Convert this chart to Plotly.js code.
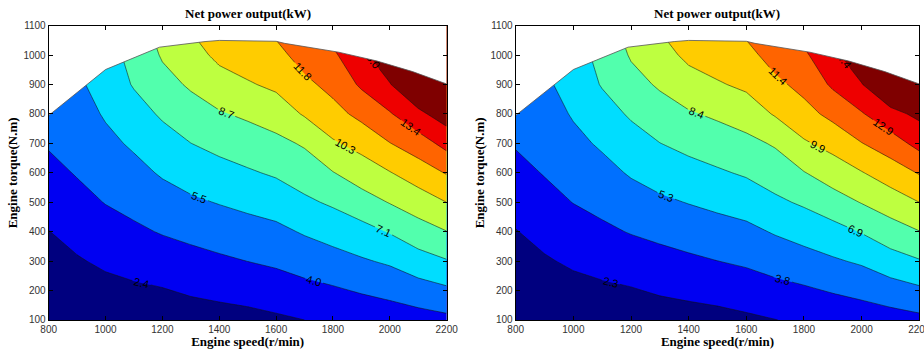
<!DOCTYPE html>
<html><head><meta charset="utf-8">
<script src="https://cdn.plot.ly/plotly-3.0.1.min.js"></script>
<style>html,body{margin:0;padding:0;background:#fff;}#chart{width:924px;height:349px;}</style>
</head><body><div id="chart"></div>
<script>
// Engine speed grid (r/min) and torque grid (N.m)
const speed = [800, 900, 1000, 1100, 1200, 1300, 1400, 1500, 1600, 1700, 1800, 1900, 2000, 2100, 2200];
const torque = [100, 200, 300, 400, 500, 600, 700, 800, 900, 1000, 1100];

// Net power output (kW), left chart, rows = torque, columns = speed
const powerLeft = [
  [0.60, 1.02, 1.25, 1.35, 1.41, 1.67, 1.80, 1.92, 2.14, 2.38, 2.66, 2.88, 3.09, 3.33, 3.58],
  [1.20, 1.63, 1.94, 2.13, 2.29, 2.56, 2.75, 2.94, 3.18, 3.50, 3.76, 4.09, 4.40, 4.83, 5.25],
  [1.80, 2.25, 2.63, 2.91, 3.18, 3.45, 3.71, 3.97, 4.21, 4.59, 4.95, 5.37, 5.75, 6.48, 7.01],
  [2.35, 2.86, 3.32, 3.69, 4.06, 4.36, 4.66, 4.93, 5.17, 5.68, 6.14, 6.57, 7.21, 8.01, 8.65],
  [2.94, 3.48, 4.01, 4.40, 4.88, 5.29, 5.61, 5.91, 6.22, 6.84, 7.33, 8.03, 8.76, 9.47, 10.27],
  [3.52, 4.06, 4.58, 5.07, 5.70, 6.20, 6.57, 6.94, 7.30, 7.84, 8.63, 9.45, 10.19, 11.05, 11.94],
  [4.10, 4.46, 5.15, 5.76, 6.50, 7.10, 7.55, 7.92, 8.29, 8.86, 10.08, 10.77, 11.80, 12.65, 13.93],
  [4.70, 4.86, 5.69, 6.50, 7.31, 8.01, 8.55, 8.94, 9.44, 10.41, 11.32, 12.26, 13.28, 14.64, 15.77],
  [5.30, 5.26, 6.17, 7.23, 8.15, 8.89, 9.61, 10.12, 10.56, 11.48, 12.31, 13.65, 14.92, 16.53, 17.57],
  [5.90, 5.66, 6.66, 7.45, 8.85, 9.65, 10.62, 11.03, 11.36, 12.47, 13.15, 14.65, 16.00, 18.30, 19.40],
  [6.50, 6.06, 7.15, 8.00, 9.30, 10.41, 11.53, 11.89, 12.30, 13.50, 14.20, 15.60, 17.20, 20.10, 21.20]
];

// Net power output (kW), right chart
const powerRight = [
  [0.58, 0.98, 1.20, 1.30, 1.36, 1.61, 1.73, 1.85, 2.06, 2.29, 2.56, 2.77, 2.98, 3.21, 3.45],
  [1.16, 1.57, 1.87, 2.05, 2.21, 2.47, 2.65, 2.83, 3.06, 3.37, 3.62, 3.94, 4.24, 4.65, 5.06],
  [1.73, 2.17, 2.53, 2.80, 3.06, 3.32, 3.57, 3.82, 4.05, 4.42, 4.77, 5.17, 5.54, 6.24, 6.75],
  [2.26, 2.75, 3.20, 3.55, 3.91, 4.20, 4.49, 4.75, 4.98, 5.47, 5.91, 6.33, 6.94, 7.71, 8.33],
  [2.83, 3.35, 3.86, 4.24, 4.70, 5.09, 5.40, 5.69, 5.99, 6.59, 7.06, 7.73, 8.44, 9.12, 9.89],
  [3.39, 3.91, 4.41, 4.88, 5.49, 5.97, 6.33, 6.68, 7.03, 7.55, 8.31, 9.10, 9.81, 10.64, 11.50],
  [3.95, 4.29, 4.96, 5.55, 6.26, 6.84, 7.27, 7.63, 7.98, 8.53, 9.71, 10.37, 11.36, 12.18, 13.41],
  [4.53, 4.68, 5.48, 6.26, 7.04, 7.71, 8.23, 8.61, 9.09, 10.02, 10.90, 11.81, 12.79, 14.00, 14.75],
  [5.10, 5.07, 5.94, 6.96, 7.85, 8.56, 9.25, 9.75, 10.17, 11.06, 11.85, 13.15, 14.37, 15.92, 16.92],
  [5.68, 5.45, 6.41, 7.17, 8.52, 9.29, 10.23, 10.62, 10.94, 12.01, 12.66, 14.11, 15.41, 17.62, 18.68],
  [6.26, 5.84, 6.89, 7.70, 8.96, 10.03, 11.10, 11.45, 11.85, 13.00, 13.67, 15.02, 16.56, 19.36, 20.42]
];

// Contour levels (first, last, step)
const levelsLeft = [2.38, 14.996, 1.577];
const levelsRight = [2.315, 14.435, 1.515];

// Maximum torque curve (upper edge of the operating region)
const curveSpeed = [800, 940, 1000, 1080, 1190, 1350, 1400, 1600, 1630, 1820, 1955, 2080, 2200];
const curveTorque = [795, 902, 951, 983, 1027, 1046, 1050, 1047, 1040, 1010, 980, 944, 902];

const speedTicks = [800, 1000, 1200, 1400, 1600, 1800, 2000, 2200];
const torqueTicks = [100, 200, 300, 400, 500, 600, 700, 800, 900, 1000, 1100];

const bandColors = ['#00007F', '#0000F2', '#0070FF', '#00DDFF', '#52FFAD', '#BEFF40', '#FFCC00', '#FF6400', '#EE0000', '#7F0000'];
const colorscale = bandColors.map((c, i) => [i / (bandColors.length - 1), c]);

function contourTrace(z, lv, xa, ya) {
  return {
    type: 'contour', x: speed, y: torque, z: z, xaxis: xa, yaxis: ya,
    autocontour: false,
    contours: {start: lv[0], end: lv[1], size: lv[2], coloring: 'fill', showlabels: true,
      labelformat: '.1f', labelfont: {family: 'Liberation Sans, Arial, sans-serif', size: 11, color: '#000'}},
    colorscale: colorscale, showscale: false,
    line: {color: '#111', width: 0.55, smoothing: 0},
    hoverinfo: 'skip'
  };
}
function maskTrace(xa, ya) {
  return {type: 'scatter', mode: 'lines', xaxis: xa, yaxis: ya,
    x: curveSpeed.concat([2200, 800]), y: curveTorque.concat([1100, 1100]),
    fill: 'toself', fillcolor: '#ffffff', line: {width: 0}, hoverinfo: 'skip', showlegend: false};
}
function edgeTrace(xa, ya) {
  return {type: 'scatter', mode: 'lines', xaxis: xa, yaxis: ya, x: curveSpeed, y: curveTorque,
    line: {color: '#555', width: 0.8}, hoverinfo: 'skip', showlegend: false};
}

const tickFont = {family: 'Liberation Sans, Arial, sans-serif', size: 10, color: '#333'};
const titleFont = {family: 'Liberation Serif, Times New Roman, serif', size: 13, color: '#000'};

function xAxis(dom, anchor) {
  return {domain: dom, anchor: anchor, range: [800, 2200], tickvals: speedTicks,
    ticks: 'inside', ticklen: 4, tickcolor: '#000', showline: true, linecolor: '#000', linewidth: 1,
    mirror: 'ticks', showgrid: false, zeroline: false, tickfont: tickFont, ticklabeloverflow: 'allow',
    title: {text: '<b>Engine speed(r/min)</b>', font: titleFont, standoff: 2}};
}
function yAxis(anchor) {
  return {domain: [0.0831, 0.9264], anchor: anchor, range: [100, 1100], tickvals: torqueTicks,
    ticks: 'inside', ticklen: 4, tickcolor: '#000', showline: true, linecolor: '#000', linewidth: 1,
    mirror: 'ticks', showgrid: false, zeroline: false, tickfont: tickFont,
    title: {text: '<b>Engine torque(N.m)</b>', font: titleFont, standoff: 2}};
}

const data = [
  contourTrace(powerLeft, levelsLeft, 'x', 'y'), maskTrace('x', 'y'), edgeTrace('x', 'y'),
  contourTrace(powerRight, levelsRight, 'x2', 'y2'), maskTrace('x2', 'y2'), edgeTrace('x2', 'y2')
];

const layout = {
  width: 924, height: 349, margin: {l: 0, r: 0, t: 0, b: 0},
  paper_bgcolor: '#fff', plot_bgcolor: '#fff', showlegend: false,
  xaxis: xAxis([0.0527, 0.4834], 'y'), yaxis: yAxis('x'),
  xaxis2: xAxis([0.5581, 0.9949], 'y2'), yaxis2: yAxis('x2'),
  annotations: [
    {text: '<b>Net power output(kW)</b>', xref: 'x domain', yref: 'y domain', x: 0.5, y: 1, yanchor: 'bottom', yshift: 3, showarrow: false, font: titleFont},
    {text: '<b>Net power output(kW)</b>', xref: 'x2 domain', yref: 'y2 domain', x: 0.5, y: 1, yanchor: 'bottom', yshift: 3, showarrow: false, font: titleFont}
  ]
};

Plotly.newPlot('chart', data, layout, {displayModeBar: false, staticPlot: true});
</script></body></html>
